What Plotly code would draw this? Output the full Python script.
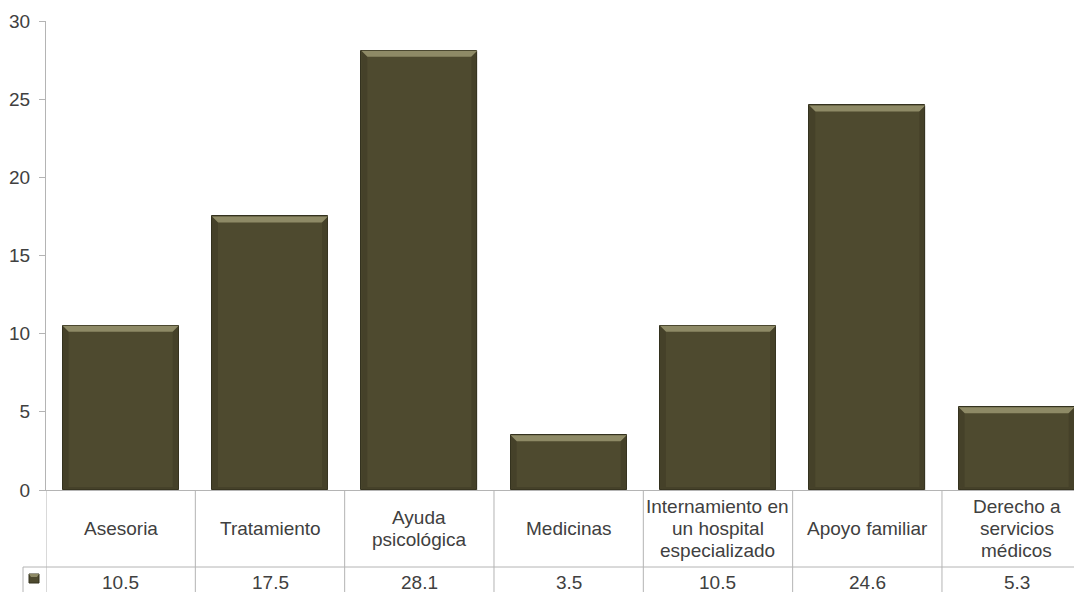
import plotly.graph_objects as go

categories = ["Asesoria", "Tratamiento", "Ayuda<br>psicológica", "Medicinas",
              "Internamiento en<br>un hospital<br>especializado", "Apoyo familiar",
              "Derecho a<br>servicios<br>médicos"]
values = [10.5, 17.5, 28.1, 3.5, 10.5, 24.6, 5.3]
y_ticks = [0, 5, 10, 15, 20, 25, 30]

# page body margin offsets the figure by 8px in the screenshot
OFF = 8
W, H = 1082, 592
ML = 46 - OFF
MT = 21 - OFF
PLOT_BOTTOM = 490 - OFF
MB = H - PLOT_BOTTOM
MR = 0
PW, PH = W - ML - MR, PLOT_BOTTOM - MT
COL = 149.33  # px per category
x_hi = -0.5 + PW / COL
Y_MAX = 30
ppu = PH / Y_MAX

BODY = "#4e4a2f"
EDGE = "#34321f"
HI = "#8e8a66"
DARK = "#3b3823"
GRID = "#b4b4b4"
TXT = "#404040"
FONT = "Liberation Sans, Arial, sans-serif"
FS = 19
BW = 0.777

def py(px):  # screenshot y -> paper y
    return (PLOT_BOTTOM - (px - OFF)) / PH

def pxr(px):  # screenshot x -> paper x
    return (px - OFF - ML) / PW

xs = list(range(len(categories)))

fig = go.Figure()
fig.add_trace(go.Bar(
    x=xs, y=values, width=BW,
    marker=dict(color=BODY, line=dict(color=EDGE, width=1)),
    hoverinfo="skip",
))

shapes = []
bev_y = 6 / ppu
bev_x = 6 / COL
bot_y = 3 / ppu
for x, v in zip(xs, values):
    l, r = x - BW / 2, x + BW / 2
    shapes.append(dict(type="path", xref="x", yref="y", layer="above",
                       path=f"M {l} {v} L {r} {v} L {r - bev_x} {v - bev_y} L {l + bev_x} {v - bev_y} Z",
                       fillcolor=HI, line=dict(width=0)))
    shapes.append(dict(type="path", xref="x", yref="y", layer="above",
                       path=f"M {l} {v} L {l + bev_x} {v - bev_y} L {l + bev_x} {bot_y} L {l} 0 Z",
                       fillcolor=DARK, line=dict(width=0), opacity=0.45))
    shapes.append(dict(type="path", xref="x", yref="y", layer="above",
                       path=f"M {r} {v} L {r - bev_x} {v - bev_y} L {r - bev_x} {bot_y} L {r} 0 Z",
                       fillcolor=DARK, line=dict(width=0), opacity=0.45))
    shapes.append(dict(type="path", xref="x", yref="y", layer="above",
                       path=f"M {l} 0 L {r} 0 L {r - bev_x} {bot_y} L {l + bev_x} {bot_y} Z",
                       fillcolor=DARK, line=dict(width=0), opacity=0.5))

# data table grid
row_line = 567
bottom = 600
for i in range(len(categories) + 1):
    shapes.append(dict(type="line", xref="x", yref="paper",
                       x0=i - 0.5, x1=i - 0.5, y0=0, y1=py(bottom),
                       line=dict(color=GRID, width=1)))
shapes.append(dict(type="line", xref="paper", yref="paper",
                   x0=pxr(23), x1=1, y0=py(row_line), y1=py(row_line),
                   line=dict(color=GRID, width=1)))
shapes.append(dict(type="line", xref="paper", yref="paper",
                   x0=pxr(23), x1=pxr(23), y0=py(row_line), y1=py(bottom),
                   line=dict(color=GRID, width=1)))
# legend key
shapes.append(dict(type="rect", xref="paper", yref="paper",
                   x0=pxr(29), x1=pxr(39), y0=py(583), y1=py(574),
                   fillcolor=BODY, line=dict(color=EDGE, width=1)))
shapes.append(dict(type="path", xref="paper", yref="paper",
                   path=f"M {pxr(29)} {py(574)} L {pxr(39)} {py(574)} L {pxr(37)} {py(577)} L {pxr(31)} {py(577)} Z",
                   fillcolor=HI, line=dict(width=0)))

annotations = []
LINE_H = 21.5
cat_center = 528.5
for x, c in zip(xs, categories):
    lines = c.split("<br>")
    n = len(lines)
    for k, t in enumerate(lines):
        yc = cat_center + (k - (n - 1) / 2) * LINE_H
        annotations.append(dict(x=x, xref="x", y=py(yc), yref="paper", text=t,
                                showarrow=False, xanchor="center", yanchor="middle",
                                font=dict(family=FONT, size=FS, color=TXT)))
for x, v in zip(xs, values):
    annotations.append(dict(x=x, xref="x", y=py(582), yref="paper", text=f"{v}",
                            showarrow=False, xanchor="center", yanchor="middle",
                            font=dict(family=FONT, size=FS, color=TXT)))

fig.update_layout(
    width=W, height=H,
    margin=dict(l=ML, r=MR, t=MT, b=MB, pad=0),
    paper_bgcolor="white", plot_bgcolor="white",
    showlegend=False,
    bargap=0,
    shapes=shapes,
    annotations=annotations,
    xaxis=dict(range=[-0.5, x_hi], showticklabels=False, ticks="",
               showgrid=False, zeroline=False, showline=True,
               linecolor=GRID, linewidth=1, fixedrange=True),
    yaxis=dict(range=[0, Y_MAX], tickvals=y_ticks, ticks="outside", ticklen=6,
               tickcolor=GRID, showgrid=False, zeroline=False, showline=True,
               linecolor=GRID, linewidth=1, ticklabelstandoff=5,
               tickfont=dict(family=FONT, size=FS, color=TXT), fixedrange=True),
)

fig.write_html("out.html", config={"displayModeBar": False})
